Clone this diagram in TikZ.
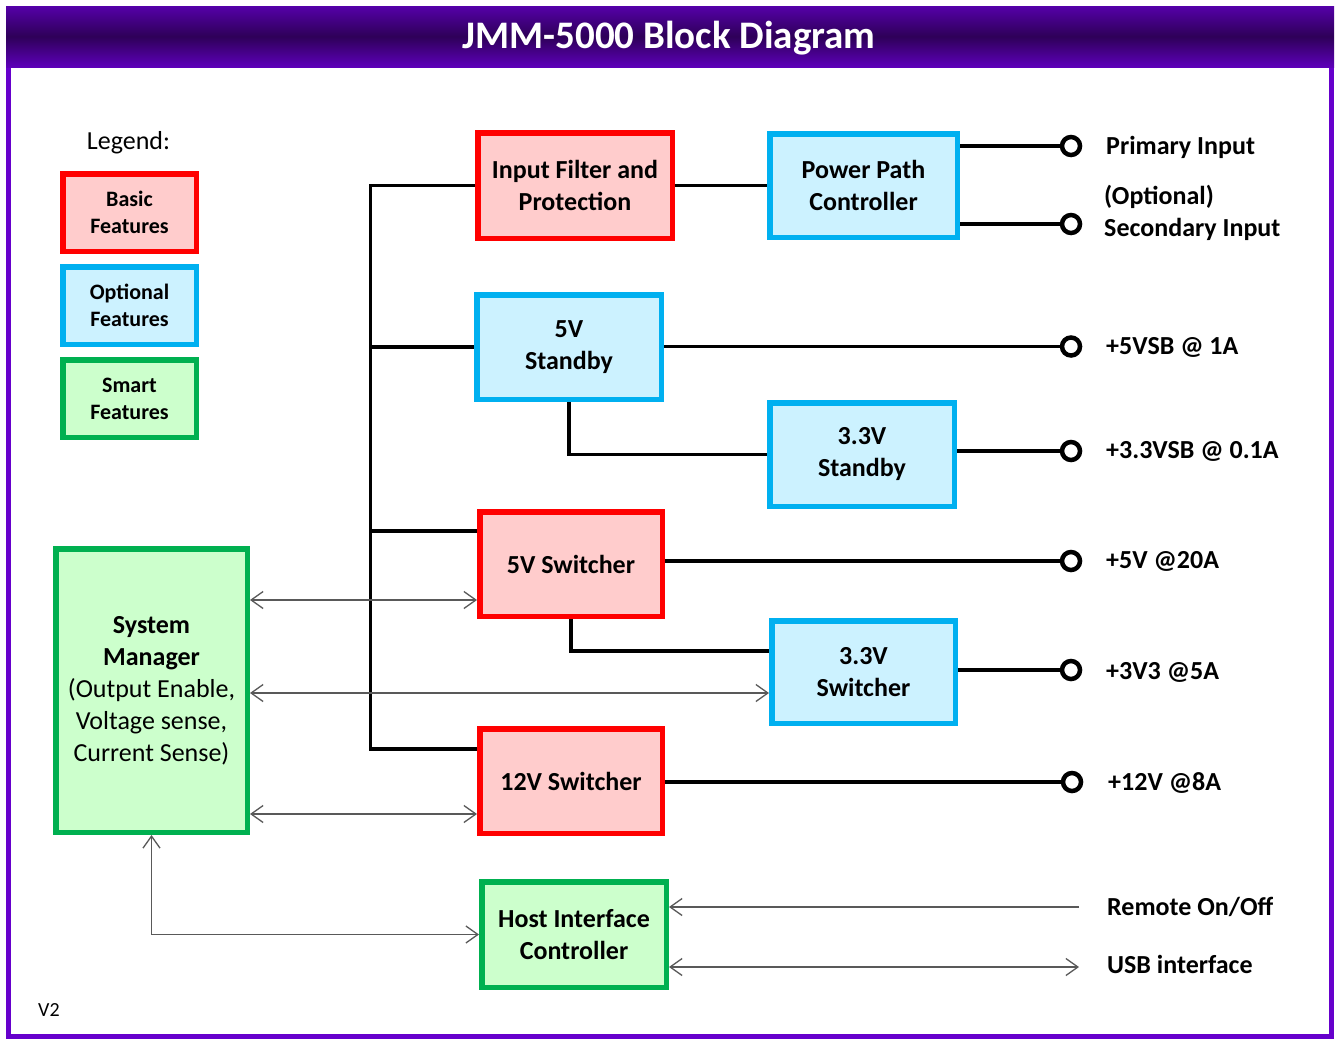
\documentclass[tikz,border=0pt]{standalone}
\usepackage{fontspec}
\setmainfont{Carlito}
\usetikzlibrary{arrows.meta}
\definecolor{ttl}{HTML}{6600CC}
\definecolor{ttldk}{HTML}{2E0058}
\definecolor{redb}{HTML}{FF0000}
\definecolor{redf}{HTML}{FFCCCC}
\definecolor{blub}{HTML}{00B0F0}
\definecolor{bluf}{HTML}{CCF2FF}
\definecolor{grnb}{HTML}{00B050}
\definecolor{grnf}{HTML}{CCFFCC}
\pgfdeclareverticalshading{tbar}{100bp}{color(0bp)=(ttl); color(20bp)=(ttl); color(50bp)=(ttldk); color(86bp)=(ttl); color(100bp)=(ttl)}
\begin{document}
\begin{tikzpicture}[x=1pt,y=-1pt,
  blk/.style={rectangle, line width=5.5pt, align=center, inner sep=0pt, font=\fontsize{26}{32}\selectfont\bfseries},
  basic/.style={blk, draw=redb, fill=redf},
  opt/.style={blk, draw=blub, fill=bluf},
  smart/.style={blk, draw=grnb, fill=grnf},
  leg/.style={font=\fontsize{22}{27}\selectfont\bfseries, minimum width=133.5pt, minimum height=77.5pt},
  wire/.style={draw=black, line width=3.5pt, line join=miter},
  sig/.style={draw=black!65, line width=1.3pt, {Straight Barb[length=12pt,width=17pt]}-{Straight Barb[length=12pt,width=17pt]}},
  sigin/.style={draw=black!65, line width=1.3pt, -{Straight Barb[length=12pt,width=17pt]}},
  term/.style={circle, draw=black, fill=white, line width=4.5pt, minimum size=18pt, inner sep=0pt},
  lab/.style={anchor=west, inner sep=0pt, font=\fontsize{26}{32}\selectfont\bfseries}]
\useasboundingbox (0,0) rectangle (1336,1039);
\fill[white] (0,0) rectangle (1336,1039);
\draw[ttl, line width=5pt] (8.5,10) rectangle (1331.5,1036.5);
\shade[shading=tbar] (6,6) rectangle (1334,67);
\node[text=white, font=\fontsize{39}{44}\selectfont\bfseries] (title) at (669,38.5) {JMM-5000 Block Diagram};

% legend
\node[font=\fontsize{26}{30}\selectfont, inner sep=0pt] (legend) at (128.5,143) {Legend:};
\node[basic, leg] (lb) at (129.5,212.5) {Basic\\Features};
\node[opt, leg] (lo) at (129.5,305.5) {Optional\\Features};
\node[smart, leg] (ls) at (129.5,398.5) {Smart\\Features};

% blocks
\node[basic, minimum width=194.5pt, minimum height=105.5pt] (ifp) at (575,185.5) {Input Filter and\\Protection};
\node[opt, minimum width=187.5pt, minimum height=103.5pt] (ppc) at (863.5,185.5) {Power Path\\Controller};
\node[opt, minimum width=184.5pt, minimum height=104.5pt] (sb5) at (569,347) {5V\\Standby};
\node[opt, minimum width=184.5pt, minimum height=103.5pt] (sb33) at (862,454.5) {3.3V\\Standby};
\node[basic, minimum width=182.5pt, minimum height=104.5pt] (sw5) at (571,564) {5V Switcher};
\node[opt, minimum width=183.5pt, minimum height=102.5pt] (sw33) at (863.5,672) {3.3V\\Switcher};
\node[basic, minimum width=182.5pt, minimum height=104.5pt] (sw12) at (571,781) {12V Switcher};
\node[smart, minimum width=191.5pt, minimum height=283.5pt] (sm) at (151.5,690.5) {System\\Manager\\\mdseries(Output Enable,\\\mdseries Voltage sense,\\\mdseries Current Sense)};
\node[smart, minimum width=184.5pt, minimum height=105.5pt] (hic) at (574,934.5) {Host Interface\\Controller};

% terminals
\node[term] (tpri) at (1071,146) {};
\node[term] (tsec) at (1071,224) {};
\node[term] (t5sb) at (1071,346.5) {};
\node[term] (t33sb) at (1071,451) {};
\node[term] (t5) at (1071,561) {};
\node[term] (t33) at (1071,670) {};
\node[term] (t12) at (1072,782) {};

% power wires
\coordinate (bb) at (370.5,749);
\coordinate (b5) at (370.5,531);
\draw[wire] (ifp.west) -| (bb) -- (bb -| sw12.west);
\draw[wire] (bb |- sb5.west) -- (sb5.west);
\draw[wire] (b5) -- (b5 -| sw5.west);
\draw[wire] (ifp.east) -- (ppc.west);
\draw[wire] (tpri -| ppc.east) -- (tpri.west);
\draw[wire] (tsec -| ppc.east) -- (tsec.west);
\draw[wire] (t5sb -| sb5.east) -- (t5sb.west);
\draw[wire] (t33sb -| sb33.east) -- (t33sb.west);
\draw[wire] (t5 -| sw5.east) -- (t5.west);
\draw[wire] (t33 -| sw33.east) -- (t33.west);
\draw[wire] (t12 -| sw12.east) -- (t12.west);
\draw[wire] (sb5.south) |- (sb33.west);
\draw[wire] (sw5.south) |- ([yshift=21pt]sw33.west);

% signal arrows
\coordinate (a1) at (0,600);
\coordinate (a2) at (0,693);
\coordinate (a3) at (0,814);
\draw[sig] (a1 -| sm.east) -- (a1 -| sw5.west);
\draw[sig] (a2 -| sm.east) -- (a2 -| sw33.west);
\draw[sig] (a3 -| sm.east) -- (a3 -| sw12.west);
\draw[sig] (sm.south) |- (hic.west);
\coordinate (rem) at (1079,907);
\coordinate (usb) at (1079,967);
\draw[sigin] (rem) -- (rem -| hic.east);
\draw[sig] (usb -| hic.east) -- (usb);

% labels
\node[lab] (lpri) at (1106,147) {Primary Input};
\node[lab] (lopt) at (1104,197) {(Optional)};
\node[lab] (lsec) at (1104,229) {Secondary Input};
\node[lab] (l5sb) at (1106,347) {+5VSB @ 1A};
\node[lab] (l33sb) at (1106,451) {+3.3VSB @ 0.1A};
\node[lab] (l5) at (1106,561) {+5V @20A};
\node[lab] (l33) at (1106,672) {+3V3 @5A};
\node[lab] (l12) at (1108,783) {+12V @8A};
\node[lab] (lrem) at (1107,907) {Remote On/Off};
\node[lab] (lusb) at (1107,964) {USB interface};
\node[anchor=west, inner sep=0pt, font=\fontsize{20}{24}\selectfont] (ver) at (38,1010) {V2};
\end{tikzpicture}
\end{document}
